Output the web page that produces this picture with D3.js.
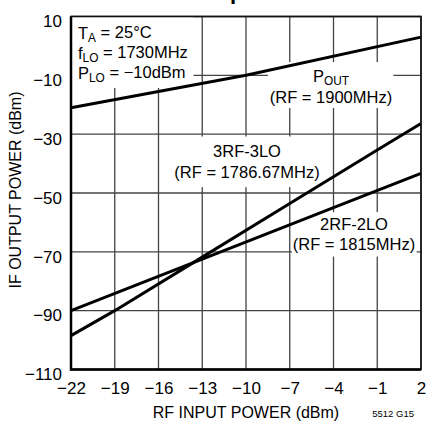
<!DOCTYPE html>
<html><head><meta charset="utf-8">
<script src="https://cdn.jsdelivr.net/npm/d3@7"></script>
<style>
html,body{margin:0;padding:0;background:#fff;}
svg{display:block;font-family:"Liberation Sans",Arial,sans-serif;}
</style></head>
<body>
<svg id="chart" width="427" height="423"></svg>
<script>
// ---- data ----
const xTicks = [-22, -19, -16, -13, -10, -7, -4, -1, 2];
const yTicks = [10, -10, -30, -50, -70, -90, -110];
const poutRF = [-22, -10, 2];
const poutIF = [-21, -10, 3];
const spur3RF = [-22, -19, -13, -7, -1, 2];
const spur3IF = [-98.5, -90, -71.8, -53.6, -35.4, -26.4];
const spur2RF = [-22, -13, -4, 2];
const spur2IF = [-90, -72.5, -55, -43.3];
const xTitle = "RF INPUT POWER (dBm)";
const yTitle = "IF OUTPUT POWER (dBm)";

const svg = d3.select("#chart");
const L = 71, R = 421, T = 16.5, B = 369.5;
const x = d3.scaleLinear().domain([-22, 2]).range([L, R]);
const y = d3.scaleLinear().domain([-110, 10]).range([B, T]);

// title fragment (clipped at top)
svg.append("text").attr("x", 230).attr("y", -1).attr("font-size", 22)
  .attr("font-weight", "bold").attr("fill", "#000").text("p");

// grid
const grid = svg.append("g");
grid.selectAll(".vx").data(xTicks).join("line")
  .attr("x1", d => x(d)).attr("x2", d => x(d)).attr("y1", T).attr("y2", B)
  .attr("stroke", "#444").attr("stroke-width", 1.3);
grid.selectAll(".hy").data(yTicks).join("line")
  .attr("x1", L).attr("x2", R).attr("y1", d => y(d)).attr("y2", d => y(d))
  .attr("stroke", "#444").attr("stroke-width", 1.3);

// white label boxes (interrupting the grid), in data units [x0, y0, x1, y1]
const boxes = [
  [-22, 10, -13.6, -14.3],
  [-8.5, -5.5, 0.1, -21.1],
  [-15.1, -30.8, -4.8, -48],
  [-6.85, -56.5, 1.7, -71.6]
];
svg.append("g").selectAll("rect").data(boxes).join("rect")
  .attr("x", d => x(d[0])).attr("y", d => y(d[1]))
  .attr("width", d => x(d[2]) - x(d[0])).attr("height", d => y(d[3]) - y(d[1]))
  .attr("fill", "#fff");

// data lines
const line = d3.line().x(d => x(d[0])).y(d => y(d[1]));
const series = [
  d3.zip(poutRF, poutIF),
  d3.zip(spur3RF, spur3IF),
  d3.zip(spur2RF, spur2IF)
];
svg.append("g").selectAll("path").data(series).join("path")
  .attr("d", line).attr("fill", "none").attr("stroke", "#000")
  .attr("stroke-width", 3).attr("stroke-linecap", "butt");

// frame
svg.append("rect").attr("x", L).attr("y", T).attr("width", R - L).attr("height", B - T)
  .attr("fill", "none").attr("stroke", "#111").attr("stroke-width", 1.6);
svg.append("path").attr("d", `M${L},${T}V${B}H${R}`)
  .attr("fill", "none").attr("stroke", "#000").attr("stroke-width", 2.5);

// axes tick labels via d3 axes
const xAxis = d3.axisBottom(x).tickValues(xTicks).tickSize(0).tickPadding(0)
  .tickFormat(d => String(d).replace("-", "\u2212"));
const gx = svg.append("g").attr("transform", `translate(0,${B})`).call(xAxis);
gx.select(".domain").remove();
gx.selectAll("text").attr("font-size", 17).attr("fill", "#000")
  .attr("font-family", '"Liberation Sans",Arial,sans-serif').attr("dy", "1.45em").attr("y", 0);

const yAxis = d3.axisLeft(y).tickValues(yTicks).tickSize(0).tickPadding(9)
  .tickFormat(d => String(d).replace("-", "\u2212"));
const gy = svg.append("g").attr("transform", `translate(${L},0)`).call(yAxis);
gy.select(".domain").remove();
gy.selectAll("text").attr("font-size", 17).attr("fill", "#000")
  .attr("font-family", '"Liberation Sans",Arial,sans-serif').attr("dy", "0.6em");

// axis titles
svg.append("text").attr("x", 246).attr("y", 418).attr("text-anchor", "middle")
  .attr("font-size", 16).text(xTitle);
svg.append("text").attr("transform", "translate(21,190) rotate(-90)")
  .attr("text-anchor", "middle").attr("font-size", 16).text(yTitle);
svg.append("text").attr("x", 414).attr("y", 417).attr("text-anchor", "end")
  .attr("font-size", 9.5).text("5512 G15");

// annotations
function sub(t, main, s, rest) {
  t.append("tspan").text(main);
  t.append("tspan").attr("font-size", "0.72em").attr("dy", "0.28em").text(s);
  t.append("tspan").attr("dy", "-0.28em").text(rest);
}
const fs = 16.5;
let t = svg.append("text").attr("x", 78).attr("y", 39).attr("font-size", fs);
sub(t, "T", "A", " = 25\u00B0C");
t = svg.append("text").attr("x", 78).attr("y", 59).attr("font-size", fs);
sub(t, "f", "LO", " = 1730MHz");
t = svg.append("text").attr("x", 78).attr("y", 79).attr("font-size", fs);
sub(t, "P", "LO", " = \u221210dBm");

t = svg.append("text").attr("x", 331).attr("y", 82).attr("font-size", fs).attr("text-anchor", "middle");
sub(t, "P", "OUT", "");
svg.append("text").attr("x", 331).attr("y", 103).attr("font-size", fs).attr("text-anchor", "middle").text("(RF = 1900MHz)");

svg.append("text").attr("x", 247).attr("y", 157).attr("font-size", fs).attr("text-anchor", "middle").text("3RF-3LO");
svg.append("text").attr("x", 247).attr("y", 178).attr("font-size", fs).attr("text-anchor", "middle").text("(RF = 1786.67MHz)");

svg.append("text").attr("x", 354).attr("y", 230).attr("font-size", fs).attr("text-anchor", "middle").text("2RF-2LO");
svg.append("text").attr("x", 354).attr("y", 250).attr("font-size", fs).attr("text-anchor", "middle").text("(RF = 1815MHz)");
</script>
</body></html>
